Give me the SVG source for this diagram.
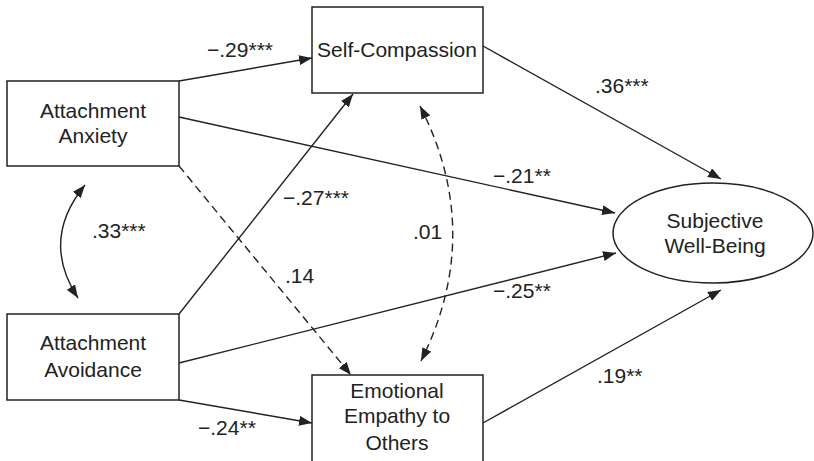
<svg xmlns="http://www.w3.org/2000/svg" width="814" height="461" viewBox="0 0 814 461">
<style>
.box{fill:#fff;stroke:#222;stroke-width:1.5}
.t{font-family:"Liberation Sans",Arial,sans-serif;font-size:21px;fill:#222;text-anchor:middle}
.l{font-family:"Liberation Sans",Arial,sans-serif;font-size:21px;fill:#222}
.c{fill:none;stroke:#222;stroke-width:1.4}
.d{stroke-dasharray:8,5}
</style>
<defs>
<marker id="ah" markerUnits="userSpaceOnUse" markerWidth="14" markerHeight="10" refX="13" refY="5" orient="auto-start-reverse">
<path d="M0,0 L13,5 L0,10 Z" fill="#222"/>
</marker>
</defs>
<rect width="814" height="461" fill="#fff"/>
<g id="connectors">
<line class="c" x1="179" y1="81" x2="312" y2="58" marker-end="url(#ah)"/>
<line class="c" x1="179" y1="117" x2="615" y2="213" marker-end="url(#ah)"/>
<line class="c d" x1="179" y1="166" x2="351" y2="375" marker-end="url(#ah)"/>
<line class="c" x1="179" y1="314" x2="353" y2="94" marker-end="url(#ah)"/>
<line class="c" x1="179" y1="363" x2="616" y2="253" marker-end="url(#ah)"/>
<line class="c" x1="179" y1="400" x2="312" y2="423" marker-end="url(#ah)"/>
<line class="c" x1="483" y1="46" x2="721" y2="179" marker-end="url(#ah)"/>
<line class="c" x1="483" y1="423" x2="721" y2="290" marker-end="url(#ah)"/>
<path class="c" d="M85,185 Q40,240 78,298" marker-start="url(#ah)" marker-end="url(#ah)"/>
<path class="c d" d="M420,106 Q485,233 421,361" marker-start="url(#ah)" marker-end="url(#ah)"/>
</g>
<g id="labels">
<text class="l" x="207" y="57">−.29***</text>
<text class="l" x="493" y="183">−.21**</text>
<text class="l" x="285" y="283">.14</text>
<text class="l" x="283" y="205">−.27***</text>
<text class="l" x="493" y="298">−.25**</text>
<text class="l" x="198" y="435">−.24**</text>
<text class="l" x="595" y="93">.36***</text>
<text class="l" x="597" y="383">.19**</text>
<text class="l" x="92" y="238">.33***</text>
<text class="l" x="413" y="239">.01</text>
</g>
<g id="anxiety">
<rect class="box" x="7" y="81" width="172" height="85"/>
<text class="t" x="93" y="118">Attachment</text>
<text class="t" x="93" y="143">Anxiety</text>
</g>
<g id="avoidance">
<rect class="box" x="7" y="314" width="172" height="86"/>
<text class="t" x="93" y="350">Attachment</text>
<text class="t" x="93" y="377">Avoidance</text>
</g>
<g id="self-compassion">
<rect class="box" x="312" y="7" width="171" height="86"/>
<text class="t" x="397" y="57">Self-Compassion</text>
</g>
<g id="empathy">
<rect class="box" x="312" y="375" width="171" height="92"/>
<text class="t" x="397" y="398">Emotional</text>
<text class="t" x="397" y="423">Empathy to</text>
<text class="t" x="397" y="450">Others</text>
</g>
<g id="wellbeing">
<ellipse class="box" cx="713" cy="233" rx="100" ry="50"/>
<text class="t" x="715" y="228">Subjective</text>
<text class="t" x="715" y="253">Well-Being</text>
</g>
</svg>
